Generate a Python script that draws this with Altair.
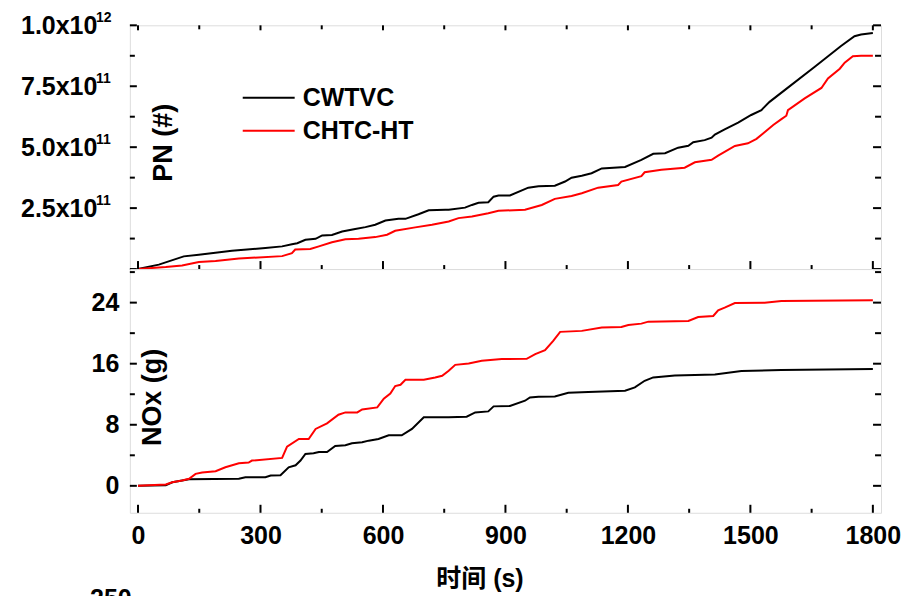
import altair as alt
import pandas as pd

series_names = ["CWTVC", "CHTC-HT"]
series_colors = ["#000000", "#ff0000"]

# PN cumulative (units of 1e11)
pn_cwtvc_t = [0, 51, 112, 149, 230, 312, 353, 377, 390, 410, 435, 451, 475, 500, 532, 557, 581, 606, 638, 655,
              687, 712, 753, 761, 801, 818, 834, 858, 871, 883, 911, 956, 981, 1021, 1046, 1062, 1087, 1111, 1136, 1193,
              1233, 1262, 1291, 1323, 1348, 1360, 1388, 1405, 1413, 1437, 1470, 1502, 1527, 1531, 1547, 1584, 1657, 1722,
              1755, 1771, 1800]
pn_cwtvc_e11 = [0, 0.18, 0.52, 0.59, 0.75, 0.86, 0.93, 1.02, 1.06, 1.2, 1.24, 1.38, 1.4, 1.54, 1.64, 1.72, 1.82, 1.99,
                2.06, 2.06, 2.25, 2.41, 2.43, 2.43, 2.52, 2.63, 2.72, 2.74, 2.97, 3.02, 3.02, 3.34, 3.40, 3.42, 3.59,
                3.75, 3.83, 3.93, 4.13, 4.19, 4.48, 4.73, 4.75, 4.98, 5.06, 5.20, 5.29, 5.39, 5.52, 5.73, 6.01, 6.32,
                6.52, 6.59, 6.86, 7.34, 8.29, 9.15, 9.55, 9.62, 9.68]
pn_chtc_t = [0, 68, 108, 149, 190, 247, 353, 377, 385, 422, 443, 475, 508, 540, 581, 610, 630, 679, 720, 761,
             785, 818, 858, 883, 948, 989, 1021, 1062, 1087, 1127, 1176, 1184, 1233, 1241, 1282, 1339, 1364, 1405,
             1421, 1462, 1494, 1515, 1531, 1556, 1576, 1588, 1592, 1633, 1674, 1690, 1719, 1731, 1751, 1771, 1800]
pn_chtc_e11 = [0, 0.08, 0.15, 0.29, 0.33, 0.43, 0.53, 0.65, 0.8, 0.82, 0.93, 1.10, 1.22, 1.24, 1.31, 1.41, 1.57, 1.71,
               1.82, 1.95, 2.09, 2.16, 2.29, 2.39, 2.43, 2.63, 2.88, 3.0, 3.11, 3.34, 3.45, 3.59, 3.81, 3.97, 4.07,
               4.16, 4.38, 4.48, 4.65, 5.05, 5.16, 5.34, 5.56, 5.91, 6.15, 6.29, 6.52, 7.0, 7.43, 7.82, 8.22, 8.47,
               8.73, 8.75, 8.75]

# NOx cumulative (g)
nox_cwtvc_t = [0, 68, 84, 108, 125, 247, 263, 312, 325, 349, 369, 386, 398, 410, 430, 443, 463, 483, 508, 524,
               549, 565, 589, 614, 646, 671, 700, 761, 805, 826, 858, 871, 911, 948, 960, 981, 1021, 1054, 1103, 1193,
               1217, 1241, 1262, 1315, 1413, 1478, 1576, 1800]
nox_cwtvc_g = [0, 0.08, 0.47, 0.69, 0.86, 0.92, 1.12, 1.12, 1.35, 1.39, 2.43, 2.69, 3.31, 4.18, 4.26, 4.44, 4.44, 5.23,
               5.31, 5.57, 5.70, 5.92, 6.14, 6.61, 6.61, 7.45, 8.97, 8.97, 9.06, 9.62, 9.75, 10.41, 10.46, 11.15, 11.58,
               11.67, 11.71, 12.2, 12.29, 12.46, 12.89, 13.76, 14.2, 14.46, 14.59, 15.03, 15.16, 15.29]
nox_chtc_t = [0, 68, 84, 108, 125, 141, 157, 190, 214, 247, 271, 279, 353, 365, 394, 418, 435, 463, 491, 508,
              537, 549, 586, 602, 618, 630, 643, 655, 700, 728, 745, 761, 777, 810, 842, 891, 952, 973, 997, 1017,
              1034, 1087, 1136, 1184, 1201, 1233, 1250, 1348, 1372, 1409, 1421, 1437, 1462, 1535, 1576, 1800]
nox_chtc_g = [0, 0.17, 0.47, 0.69, 0.92, 1.57, 1.74, 1.91, 2.43, 2.95, 3.05, 3.31, 3.66, 5.14, 6.14, 6.14, 7.45, 8.18,
              9.32, 9.62, 9.62, 10.0, 10.27, 11.41, 12.1, 13.07, 13.24, 13.89, 13.89, 14.2, 14.41, 15.07, 15.85, 16.03,
              16.38, 16.6, 16.64, 17.25, 17.77, 18.99, 20.17, 20.3, 20.73, 20.82, 21.08, 21.25, 21.51, 21.6, 22.12,
              22.25, 23.0, 23.34, 23.95, 23.99, 24.21, 24.3]

x_major = [0, 300, 600, 900, 1200, 1500, 1800]
x_minor = [150, 450, 750, 1050, 1350, 1650]
pn_major = [0, 2.5e11, 5.0e11, 7.5e11, 1.0e12]
pn_minor = [1.25e11, 3.75e11, 6.25e11, 8.75e11]
pn_labels = [2.5e11, 5.0e11, 7.5e11, 1.0e12]
pn_label_exponents = ["11", "11", "11", "12"]
nox_major = [0, 8, 16, 24]
nox_minor = [4, 12, 20, 28]
next_panel_label = ["250"]

FONT = "Liberation Sans"
CJK = "Liberation Sans, Noto Sans CJK SC"
W, H = 752, 244

pn_df = pd.concat([
    pd.DataFrame({"t": pn_cwtvc_t, "pn": [v * 1e11 for v in pn_cwtvc_e11], "series": series_names[0]}),
    pd.DataFrame({"t": pn_chtc_t, "pn": [v * 1e11 for v in pn_chtc_e11], "series": series_names[1]}),
])
nox_df = pd.concat([
    pd.DataFrame({"t": nox_cwtvc_t, "nox": nox_cwtvc_g, "series": series_names[0]}),
    pd.DataFrame({"t": nox_chtc_t, "nox": nox_chtc_g, "series": series_names[1]}),
])

x_scale = alt.Scale(domain=[-20, 1820], nice=False, zero=False)
legend = alt.Legend(title=None, orient="none", legendX=112, legendY=60, symbolType="stroke", symbolSize=2704,
                    symbolStrokeWidth=2, labelFont=FONT, labelFontSize=25, labelFontWeight="bold",
                    labelColor="black", labelOffset=7, clipHeight=25, rowPadding=7, padding=0)
color = alt.Color("series:N", scale=alt.Scale(domain=series_names, range=series_colors), sort=series_names,
                  legend=legend)

# ---------------- top panel ----------------
x_top = alt.X("t:Q", scale=x_scale, axis=None)
y_top = alt.Y("pn:Q", scale=alt.Scale(domain=[0, 1e12], nice=False),
              axis=alt.Axis(values=pn_labels,
                            labelExpr="datum.value >= 1e12 ? '1.0x10' : format(datum.value / 1e11, '.1f') + 'x10'",
                            ticks=False, tickSize=0, domain=False, grid=False,
                            labelFont=FONT, labelFontSize=25, labelFontWeight="bold", labelColor="black",
                            labelPadding=33,
                            title="PN (#)", titleFont=FONT, titleFontSize=27, titleFontWeight="bold",
                            titleColor="black", titleAngle=270, titleX=42, titleY=117, titleAlign="center",
                            titleBaseline="alphabetic"))


def xticks(x_enc, vals, y0, y1):
    return alt.Chart(pd.DataFrame({"t": vals})).mark_rule(color="black", strokeWidth=2).encode(
        x=x_enc, y=alt.value(y0), y2=alt.value(y1))


def yticks(y_enc, field, vals, x0, x1):
    return alt.Chart(pd.DataFrame({field: vals})).mark_rule(color="black", strokeWidth=2).encode(
        y=y_enc, x=alt.value(x0), x2=alt.value(x1))


top_lines = alt.Chart(pn_df).mark_line(strokeWidth=2).encode(x=x_top, y=y_top, color=color)
exponents = alt.Chart(pd.DataFrame({"pn": pn_labels, "exp": pn_label_exponents})).mark_text(
    font=FONT, fontSize=14, fontWeight="bold", color="black", align="left", baseline="alphabetic", dy=-3
).encode(y=y_top, x=alt.value(-34), text="exp:N")

top = alt.layer(
    top_lines, exponents,
    xticks(x_top, x_major, H, H - 8), xticks(x_top, x_minor, H, H - 4),
    xticks(x_top, x_major, 0, 5), xticks(x_top, x_minor, 0, 4),
    yticks(y_top, "pn", pn_major, 0, 7), yticks(y_top, "pn", pn_minor, 0, 5),
    yticks(y_top, "pn", pn_major, W, W - 8), yticks(y_top, "pn", pn_minor, W, W - 6),
).properties(width=W, height=H)

# ---------------- bottom panel ----------------
x_bot = alt.X("t:Q", scale=x_scale,
              axis=alt.Axis(values=x_major, format="d", ticks=False, tickSize=0, domain=False, grid=False,
                            labelFont=FONT, labelFontSize=25, labelFontWeight="bold", labelColor="black",
                            labelPadding=11,
                            title="时间 (s)", titleFont=CJK, titleFontSize=25, titleFontWeight="bold",
                            titleColor="black", titleX=350, titleAlign="center", titlePadding=18))
y_bot = alt.Y("nox:Q", scale=alt.Scale(domain=[-3.53, 28.4], nice=False, zero=False),
              axis=alt.Axis(values=nox_major, ticks=False, tickSize=0, domain=False, grid=False,
                            labelFont=FONT, labelFontSize=25, labelFontWeight="bold", labelColor="black",
                            labelPadding=11,
                            title="NOx (g)", titleFont=FONT, titleFontSize=27, titleFontWeight="bold",
                            titleColor="black", titleAngle=270, titleX=31, titleY=128, titleAlign="center",
                            titleBaseline="alphabetic"))

bot_lines = alt.Chart(nox_df).mark_line(strokeWidth=2).encode(x=x_bot, y=y_bot, color=color)
next_text = alt.Chart(pd.DataFrame({"label": next_panel_label})).mark_text(
    font=FONT, fontSize=25, fontWeight="bold", color="black", align="center", baseline="alphabetic"
).encode(text="label:N", x=alt.value(-19), y=alt.value(338))

bottom = alt.layer(
    bot_lines,
    xticks(x_bot, x_major, H, H - 8), xticks(x_bot, x_minor, H, H - 4),
    yticks(y_bot, "nox", nox_major, 0, 7), yticks(y_bot, "nox", nox_minor, 0, 5),
    yticks(y_bot, "nox", nox_major, W, W - 8), yticks(y_bot, "nox", nox_minor, W, W - 6),
    next_text,
).properties(width=W, height=H)

chart = alt.vconcat(top, bottom, spacing=0, bounds="flush").properties(
    padding={"left": 20, "top": 10, "right": 5, "bottom": 5}
).configure_view(stroke="black", strokeWidth=2).configure(background="white")

chart.save("out.html", embed_options={"renderer": "svg", "actions": False})
